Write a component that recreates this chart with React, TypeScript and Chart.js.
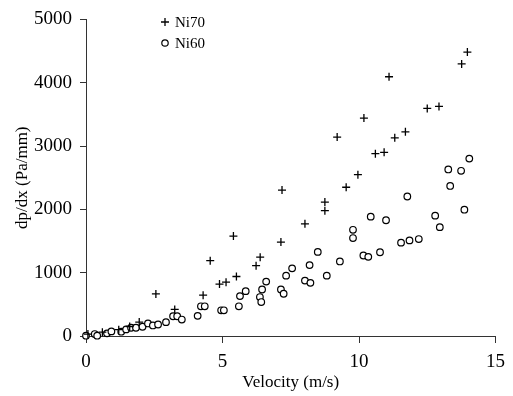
import React, { useEffect, useRef } from "react";
import { Chart, registerables } from "chart.js";

Chart.register(...registerables);

const ni70Velocity = [0.07, 0.6, 1.2, 1.6, 1.95, 2.56, 3.25, 4.29, 4.55, 4.89, 5.13, 5.4, 5.51, 6.23, 6.38, 7.14, 7.18, 8.02, 8.75, 8.75, 9.2, 9.53, 9.96, 10.18, 10.6, 10.92, 11.1, 11.31, 11.7, 12.5, 12.93, 13.76, 13.97];
const ni70Dp = [30, 60, 100, 150, 220, 665, 420, 645, 1190, 820, 850, 1578, 940, 1110, 1245, 1484, 2305, 1771, 1979, 2115, 3141, 2349, 2547, 3442, 2880, 2901, 4094, 3130, 3224, 3594, 3625, 4297, 4484];

const ni60Velocity = [0, 0.32, 0.41, 0.77, 0.93, 1.29, 1.47, 1.65, 1.83, 2.07, 2.27, 2.45, 2.64, 2.93, 3.19, 3.34, 3.51, 4.09, 4.21, 4.35, 4.95, 5.05, 5.6, 5.64, 5.85, 6.37, 6.42, 6.45, 6.6, 7.14, 7.24, 7.33, 7.55, 8.02, 8.19, 8.22, 8.49, 8.82, 9.3, 9.78, 9.78, 10.16, 10.34, 10.43, 10.77, 10.99, 11.54, 11.77, 11.85, 12.19, 12.79, 12.96, 13.27, 13.34, 13.74, 13.86, 14.04];
const ni60Dp = [5, 31, 5, 42, 73, 68, 104, 130, 130, 146, 198, 167, 182, 219, 312, 312, 260, 318, 469, 469, 406, 406, 469, 630, 708, 615, 536, 734, 859, 734, 667, 953, 1068, 875, 1120, 839, 1328, 953, 1177, 1547, 1677, 1271, 1250, 1885, 1323, 1828, 1474, 2203, 1510, 1531, 1901, 1719, 2630, 2370, 2609, 1995, 2802];

const seriesNames = ["Ni70", "Ni60"];
const xTitle = "Velocity (m/s)";
const yTitle = "dp/dx (Pa/mm)";
const xRange = [0, 15];
const yRange = [0, 5000];
const xStep = 5;
const yStep = 1000;

const SERIF = '"Liberation Serif", "Times New Roman", serif';

const legendPlugin = {
  id: "customLegend",
  afterDraw(chart: any) {
    const ctx = chart.ctx;
    ctx.save();
    ctx.strokeStyle = "#000";
    ctx.lineWidth = 1.3;
    const px = 165, py = 22;
    ctx.beginPath();
    ctx.moveTo(px - 4, py);
    ctx.lineTo(px + 4, py);
    ctx.moveTo(px, py - 4);
    ctx.lineTo(px, py + 4);
    ctx.stroke();
    const cx = 165, cy = 43;
    ctx.beginPath();
    ctx.arc(cx, cy, 3.2, 0, Math.PI * 2);
    ctx.fillStyle = "#fff";
    ctx.fill();
    ctx.lineWidth = 1.2;
    ctx.stroke();
    ctx.fillStyle = "#000";
    ctx.font = "15px " + SERIF;
    ctx.textBaseline = "middle";
    ctx.textAlign = "left";
    ctx.fillText(seriesNames[0], 175, py + 1);
    ctx.fillText(seriesNames[1], 175, cy + 1);
    ctx.restore();
  },
};

export default function App() {
  const ref = useRef<HTMLCanvasElement>(null);
  useEffect(() => {
    document.body.style.margin = "0";
    const canvas = ref.current!;
    const axisColor = "#333";
    const chart = new Chart(canvas, {
      type: "scatter",
      data: {
        datasets: [
          {
            label: seriesNames[0],
            data: ni70Velocity.map((v, i) => ({ x: v, y: ni70Dp[i] })),
            pointStyle: "cross",
            pointRadius: 4,
            pointBorderColor: "#000",
            pointBorderWidth: 1.3,
            pointBackgroundColor: "#000",
            clip: false,
          },
          {
            label: seriesNames[1],
            data: ni60Velocity.map((v, i) => ({ x: v, y: ni60Dp[i] })),
            pointStyle: "circle",
            pointRadius: 3.3,
            pointBorderColor: "#000",
            pointBorderWidth: 1.2,
            pointBackgroundColor: "#fff",
            clip: false,
          },
        ],
      },
      options: {
        animation: false,
        responsive: false,
        layout: { padding: { top: 16, right: 11, left: 0, bottom: 0 } },
        plugins: { legend: { display: false }, tooltip: { enabled: false } },
        scales: {
          x: {
            type: "linear",
            min: xRange[0],
            max: xRange[1],
            afterFit: (s: any) => { s.height = 60; },
            ticks: {
              stepSize: xStep,
              color: "#000",
              font: { family: SERIF, size: 19 },
              padding: 8,
              callback: (v: any) => String(v),
            },
            grid: { drawOnChartArea: false, tickLength: 7, color: axisColor, lineWidth: 1 },
            border: { color: axisColor, width: 1 },
            title: {
              display: true,
              text: xTitle,
              color: "#000",
              font: { family: SERIF, size: 17 },
              padding: { top: 1, bottom: 3 },
            },
          },
          y: {
            type: "linear",
            min: yRange[0],
            max: yRange[1],
            afterFit: (s: any) => { s.width = 86; },
            ticks: {
              stepSize: yStep,
              color: "#000",
              font: { family: SERIF, size: 19 },
              padding: 8,
              callback: (v: any) => String(v),
            },
            grid: { drawOnChartArea: false, tickLength: 6, color: axisColor, lineWidth: 1 },
            border: { color: axisColor, width: 1 },
            title: {
              display: true,
              text: yTitle,
              color: "#000",
              font: { family: SERIF, size: 17 },
              padding: { top: 12, bottom: 0 },
            },
          },
        },
      },
      plugins: [legendPlugin],
    });
    return () => chart.destroy();
  }, []);
  return (
    <div style={{ width: 513, height: 396 }}>
      <canvas ref={ref} width={513} height={396} style={{ width: 513, height: 396, display: "block" }} />
    </div>
  );
}
